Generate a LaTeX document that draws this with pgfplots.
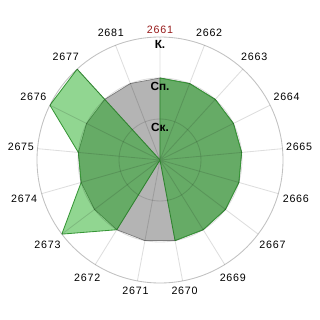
\documentclass[border=0pt]{standalone}
\usepackage{fontspec}
\setmainfont{Liberation Sans}
\usepackage{pgfplots}
\pgfplotsset{compat=1.18}
\usepackage{pgfplotstable}
\usepgfplotslibrary{polar}

\definecolor{gridc}{RGB}{0,0,0}
\definecolor{normfill}{RGB}{180,180,180}
\definecolor{normline}{RGB}{125,125,125}
\definecolor{scorefill}{RGB}{0,160,0}
\definecolor{scoreline}{RGB}{55,150,55}
\definecolor{hilite}{RGB}{150,25,25}

% angle (deg, counter-clockwise from east), level: 0 none, 1 Ск., 2 Сп., 3 К.
\pgfplotstableread{
ang     r
90      2
68.8235 2
47.6471 2
26.4706 2
5.2941  2
344.1176 2
322.9412 2
301.7647 2
280.5882 2
259.4118 2
238.2353 2
217.0588 2
195.8824 2
174.7059 2
153.5294 2
132.3529 2
111.1765 2
90      2
}\normdata

\pgfplotstableread{
ang     r
90      2
68.8235 2
47.6471 2
26.4706 2
5.2941  2
344.1176 2
322.9412 2
301.7647 2
280.5882 2
259.4118 0
238.2353 2
217.0588 3
195.8824 2
174.7059 2
153.5294 3
132.3529 3
111.1765 0
90      2
}\scoredata

\begin{document}
\begin{tikzpicture}
\useasboundingbox (-4cm,-4cm) rectangle (4cm,4cm);
\begin{polaraxis}[
  at={(0,0)}, anchor=origin,
  scale only axis, width=6.15cm, height=6.15cm,
  xmin=0, xmax=360, ymin=0, ymax=3,
  xtick={5.2941,26.4706,47.6471,68.8235,90,111.1765,132.3529,153.5294,174.7059,195.8824,217.0588,238.2353,259.4118,280.5882,301.7647,322.9412,344.1176},
  xticklabels={2665,2664,2663,2662,\textcolor{hilite}{2661},2681,2677,2676,2675,2674,2673,2672,2671,2670,2669,2667,2666},
  ytick={1,2,3}, yticklabels={},
  grid=major,
  major tick length=0pt,
  axis on top,
  major grid style={draw=gridc, draw opacity=0.13, line width=0.6pt},
  x axis line style={draw=gridc, draw opacity=0.13, line width=0.6pt},
  y axis line style={draw=none},
  /pgf/number format/assume math mode=true,
  xticklabel style={font=\fontsize{7.6}{8}\selectfont\addfontfeature{LetterSpace=7}, inner sep=2.5pt},
]
\addplot[fill=normfill, draw=normline, line width=0.5pt, mark=none] table[x=ang,y=r] {\normdata};
\addplot[fill=scorefill, fill opacity=0.43, draw=scoreline, line width=0.6pt, mark=none] table[x=ang,y=r] {\scoredata};
\node[anchor=north, font=\fontsize{8.4}{9}\selectfont\bfseries, inner sep=2.5pt] at (axis cs:90,3) {К.};
\node[anchor=north, font=\fontsize{8.4}{9}\selectfont\bfseries, inner sep=2.5pt] at (axis cs:90,2) {Сп.};
\node[anchor=north, font=\fontsize{8.4}{9}\selectfont\bfseries, inner sep=2.5pt] at (axis cs:90,1) {Ск.};
\end{polaraxis}
\end{tikzpicture}
\end{document}
